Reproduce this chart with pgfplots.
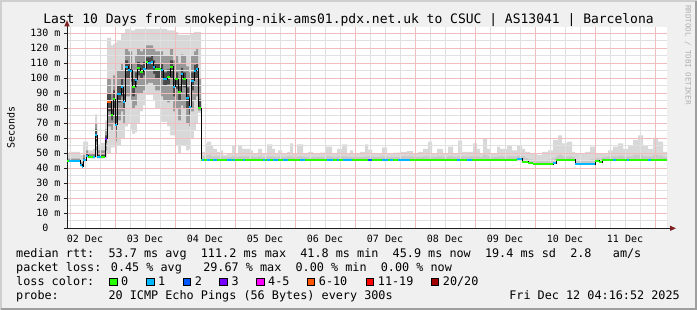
\documentclass[border=0pt]{standalone}
\usepackage{pgfplots}
\pgfplotsset{compat=1.18}
\usepackage{pgfplotstable}
\usetikzlibrary{arrows.meta}
\usepackage{fontspec}
\setmainfont{DejaVu Sans Mono}
\definecolor{bg}{HTML}{F0F0F0}
\definecolor{shadea}{HTML}{CFCFCF}
\definecolor{shadeb}{HTML}{9E9E9E}
\definecolor{gridc}{HTML}{E0E0E0}
\definecolor{mgridc}{HTML}{EFBDBD}
\definecolor{axisc}{HTML}{1F1F1F}
\definecolor{arrowc}{HTML}{7F1F1F}
\definecolor{smkA}{HTML}{D8D8D8}
\definecolor{smkB}{HTML}{999999}
\definecolor{smkC}{HTML}{4A4A4A}
\definecolor{smkF}{HTML}{C8C8C8}
\definecolor{l0}{HTML}{26FF00}
\definecolor{l1}{HTML}{00B8FF}
\definecolor{l2}{HTML}{0059FF}
\definecolor{l3}{HTML}{7700FF}
\definecolor{l45}{HTML}{FF00FF}
\definecolor{l610}{HTML}{FF5500}
\definecolor{l1119}{HTML}{FF0000}
\definecolor{l20}{HTML}{A10000}
\definecolor{wm}{HTML}{B0B0B0}

% x = hours since 02 Dec 00:00
\pgfplotstableread{
x lo q1 c1 med c2 q3 hi
4.8 44.5 45 45 45 45.5 46.5 50
5.6 44.5 45 45 45 45.5 46.5 51
10.0 41 42 42.3 42.5 43 44 49
10.8 40.5 41 41 41 42 44 49
11.2 44 45 45.3 45.5 46.5 49 57.7
12.4 47 48 48.3 48.5 49.5 52 57.7
13.2 46.5 47.3 47.6 47.8 48.3 49.5 52
15.2 46.5 47.3 47.6 47.8 48.5 50 53
16.0 47 52 58 62 66 70 76
16.8 46.5 47.3 47.6 47.8 49 52 56
18.4 46.5 47.3 47.6 47.8 49 52 57
20.0 47 52 57 59.7 62 66 72
20.8 50 68 78 84.3 90 100 127
22.4 54 65 72 75.6 80 90 122
23.2 54 70 80 86 92 102 123
24.0 50 58 65 69 75 90 124
24.8 55 72 84 89.5 95 105 125
26.4 60 78 88 94 100 110 130
27.2 60 70 80 84.3 90 105 130
28.0 68 88 100 107.6 112 120 133
29.2 70 88 100 105.6 110 118 133
30.0 66 85 98 105 110 118 132
30.8 63 80 88 94.3 100 110 132
32.0 64 82 94 99 104 115 133
32.8 70 90 102 106.8 111 120 133
34.0 78 90 100 104.2 109 118 133
35.2 82 92 102 106.2 111 120 133
36.4 89 96 106 110.9 114 122 133
37.2 89 97 106 110.4 114 122 133
38.4 89 97 106 110.9 115 122 133
39.2 85 95 103 107.7 112 120 133
40.0 80 92 100 106.2 110 118 133
42.4 71 88 100 105.5 110 118 133
43.2 71 85 95 99.5 104 115 133
44.8 68 84 96 101 106 115 132
46.0 62 85 100 107.7 112 120 132
47.2 62 78 88 94.4 100 112 132
48.0 55 80 93 99.5 104 115 131
49.2 50 72 85 91 96 110 129
50.4 55 82 96 102.9 107 116 129
51.2 55 80 94 99.3 104 115 129
52.4 52 70 80 86.7 94 108 129
53.6 53 68 76 81 88 104 129
54.4 60 78 92 98.4 104 115 130
55.6 65 85 100 105 109 118 131
56.4 70 88 100 106.4 110 120 131
57.2 77 78.5 79.5 80 86 100 131
58.4 45.8 45.8 45.8 45.8 45.8 45.8 45.8
}\vol

\pgfplotstableread{
x med mid hi
58.4 45.8 48 53
58.8 45.8 48 51
60.0 45.8 49 56.6
60.8 45.8 49 57.7
62.4 45.8 48 55.5
63.2 45.8 48 53
64.8 45.8 48 51
66.0 45.8 48 52
67.2 45.8 47.5 49
68.8 45.8 47.5 49.5
70.8 45.8 48 55
72.0 45.8 47.5 50
73.2 45.8 48 55
74.8 45.8 48 53
76.8 45.8 48 53
78.0 45.8 48 52
79.2 45.8 47.5 50
81.2 45.8 48 53
82.8 45.8 47.5 50
84.8 45.8 48 56
86.8 45.8 48 53
88.0 45.8 47.5 50
89.2 45.8 48 52
90.8 45.8 47.5 50
92.8 45.8 48 51
94.0 45.8 48 56.6
95.2 45.8 47.5 50
96.8 45.8 48 56
98.0 45.8 48 56
99.2 45.8 47.5 50
101.2 45.8 47.5 51
103.2 45.8 47.5 50
106.0 45.8 47.5 50.5
108.0 45.8 48 54.5
110.8 45.8 47.5 50
112.8 45.8 48 53
114.8 45.8 48 56
116.8 45.8 47.5 50
118.0 45.8 47.5 52
119.2 45.8 47.5 50
122.0 45.8 47.5 51
124.0 45.8 48 56
125.2 45.8 48 52.5
126.8 45.8 47.5 50
130.8 45.8 48 54
132.8 45.8 47.5 50
135.2 45.8 47.5 50.5
138.0 45.8 48 51
140.8 45.8 48 51.5
143.2 45.8 47.5 50
145.2 45.8 47.5 51
147.2 45.8 48 53
149.2 45.8 48 57.7
150.8 45.8 47.5 50
152.8 45.8 48 53
155.2 45.8 47.5 50
157.2 45.8 48 54.5
159.2 45.8 47.5 50
161.2 45.8 48 58.5
162.8 45.8 48 51
167.2 45.8 48 56.6
168.8 45.8 48 53
170.0 45.8 47.5 50
171.2 45.8 49 60
172.8 45.8 48 53
174.0 45.8 47.5 50
176.8 45.8 48 54.5
178.0 45.8 48 53
180.8 45.8 48 55
182.8 45.8 48 52
184.8 46.2 48.5 55
186.8 44.4 48 53
188.0 44.4 47 51
189.2 43.5 46 51
190.0 43.5 46 50
191.2 42.6 45.5 50
192.8 42.6 45 49
194.8 42.6 45.5 51
197.2 42.6 46 52
199.2 43.3 47 59
200.4 45.8 48 59
201.2 45.8 49 62
202.8 45.8 48 56.6
204.8 45.8 48 57.7
206.8 45.8 47.5 51
208.0 42.6 45.5 50
210.0 42.6 45 49.5
212.0 42.6 45.5 51
214.0 42.6 46 54.5
216.0 45.0 47 50
217.6 44.0 46.5 50
218.8 45.8 47.5 50
221.2 45.8 48 52
223.2 45.8 48 54.5
225.2 45.8 48.5 56.6
227.2 45.8 48 53
229.2 45.8 48 55.5
231.2 45.8 49 59
233.2 45.8 49 62
235.2 45.8 48 55.5
237.2 45.8 48 53
239.2 45.8 49 60.5
241.2 45.8 48.5 57.7
243.2 45.8 47.5 51
244.8 45.8 47.5 51
}\flat

% segments with 1/20 loss (pairs separated by nan)
\pgfplotstableread{
x y
5.6 45
10.0 45
10.0 nan
10.0 42.5
10.8 42.5
10.8 nan
10.8 41
11.2 41
11.2 nan
11.2 45.5
12.4 45.5
12.4 nan
12.4 48.5
13.2 48.5
13.2 nan
15.2 47.8
16.0 47.8
16.0 nan
16.0 62
16.8 62
16.8 nan
16.8 47.8
18.4 47.8
18.4 nan
24.0 69
24.8 69
24.8 nan
24.8 89.5
26.4 89.5
26.4 nan
26.4 94
27.2 94
27.2 nan
27.2 84.3
28.0 84.3
28.0 nan
28.0 107.6
29.2 107.6
29.2 nan
29.2 105.6
30.0 105.6
30.0 nan
30.0 105
30.8 105
30.8 nan
32.0 99
32.8 99
32.8 nan
35.2 106.2
36.4 106.2
36.4 nan
37.2 110.4
38.4 110.4
38.4 nan
38.4 110.9
39.2 110.9
39.2 nan
39.2 107.7
40.0 107.7
40.0 nan
42.4 105.5
43.2 105.5
43.2 nan
43.2 99.5
44.8 99.5
44.8 nan
47.2 94.4
48.0 94.4
48.0 nan
50.4 102.9
51.2 102.9
51.2 nan
52.4 86.7
53.6 86.7
53.6 nan
53.6 81
54.4 81
54.4 nan
54.4 98.4
55.6 98.4
55.6 nan
55.6 105
56.4 105
56.4 nan
56.4 106.4
57.2 106.4
57.2 nan
58.8 45.8
59.6 45.8
59.6 nan
60.8 45.8
62.0 45.8
62.0 nan
63.2 45.8
64.8 45.8
64.8 nan
68.8 45.8
70.8 45.8
70.8 nan
71.2 45.8
72.0 45.8
72.0 nan
75.2 45.8
76.0 45.8
76.0 nan
83.2 45.8
84.0 45.8
84.0 nan
84.8 45.8
86.0 45.8
86.0 nan
87.2 45.8
89.2 45.8
89.2 nan
91.2 45.8
93.2 45.8
93.2 nan
98.0 45.8
100.0 45.8
100.0 nan
108.8 45.8
111.2 45.8
111.2 nan
112.8 45.8
113.6 45.8
113.6 nan
115.2 45.8
118.8 45.8
118.8 nan
130.8 45.8
133.2 45.8
133.2 nan
134.0 45.8
135.2 45.8
135.2 nan
137.2 45.8
142.0 45.8
142.0 nan
160.8 45.8
162.0 45.8
162.0 nan
164.8 45.8
166.8 45.8
166.8 nan
184.8 46.2
186.8 46.2
186.8 nan
199.2 43.3
200.4 43.3
200.4 nan
208.0 42.6
216.0 42.6
216.0 nan
223.2 45.8
224.4 45.8
224.4 nan
228.8 45.8
229.6 45.8
229.6 nan
237.2 45.8
238.4 45.8
}\cyanseg

\newcommand\fsz[1]{\fontsize{#1}{#1}\selectfont}
\pgfplotsset{
  common/.style={
    at={(67bp,81.7bp)}, anchor=south west,
    scale only axis, width=600bp, height=201bp,
    xmin=4.8, xmax=244.8, ymin=0, ymax=134,
    unbounded coords=jump,
  },
  band/.style={const plot, draw=none, fill=#1, forget plot},
}

\begin{document}
\begin{tikzpicture}
\fill[bg] (0bp,0bp) rectangle (697bp,310bp);
\draw[shadea, line width=2bp] (1bp,0bp) -- (1bp,309bp) -- (697bp,309bp);
\draw[shadeb, line width=2bp] (1bp,1bp) -- (696bp,1bp) -- (696bp,309bp);

\begin{axis}[
  common,
  axis on top,
  axis background/.style={fill=white},
  axis x line=bottom, axis y line=left,
  x axis line style={draw=axisc, line width=1bp, -{Triangle[length=6bp,width=5bp,color=arrowc]}, shorten >=-9bp},
  y axis line style={draw=axisc, line width=1bp, -{Triangle[length=6bp,width=5bp,color=arrowc]}, shorten >=-7bp},
  tick align=outside, major tick length=3bp, minor tick length=0bp,
  tick style={draw=axisc, line width=1bp},
  xtick={12,36,60,84,108,132,156,180,204,228},
  xticklabels={02 Dec,03 Dec,04 Dec,05 Dec,06 Dec,07 Dec,08 Dec,09 Dec,10 Dec,11 Dec},
  xtick style={draw=none},
  minor xtick={6,12,18,30,36,42,54,60,66,78,84,90,102,108,114,126,132,138,150,156,162,174,180,186,198,204,210,222,228,234},
  xminorgrids=true, xmajorgrids=false,
  extra x ticks={24,48,72,96,120,144,168,192,216,240},
  extra x tick labels={},
  extra x tick style={grid=major, major grid style={draw=mgridc, line width=1bp}},
  ytick={0,10,20,30,40,50,60,70,80,90,100,110,120,130},
  yticklabels={0\hphantom{mm},10 m,20 m,30 m,40 m,50 m,60 m,70 m,80 m,90 m,100 m,110 m,120 m,130 m},
  minor ytick={5,15,25,35,45,55,65,75,85,95,105,115,125},
  ymajorgrids=true, yminorgrids=true,
  major grid style={draw=mgridc, line width=1bp},
  minor grid style={draw=gridc, line width=1bp},
  ticklabel style={font=\fsz{10bp}},
  ylabel={Seconds},
  ylabel style={font=\fsz{10bp}, at={(axis description cs:-0.0933,0.5)}, anchor=center},
]
% smoke, volatile part: nested areas painted from the top value down
\addplot[band=smkA] table[x=x,y=hi]{\vol} \closedcycle;
\addplot[band=smkB] table[x=x,y=q3]{\vol} \closedcycle;
\addplot[band=smkC] table[x=x,y=c2]{\vol} \closedcycle;
\addplot[band=smkB] table[x=x,y=c1]{\vol} \closedcycle;
\addplot[band=smkA] table[x=x,y=q1]{\vol} \closedcycle;
\addplot[band=white] table[x=x,y=lo]{\vol} \closedcycle;
% smoke, flat part
\addplot[band=smkA] table[x=x,y=hi]{\flat} \closedcycle;
\addplot[band=smkF] table[x=x,y=mid]{\flat} \closedcycle;
\addplot[band=white] table[x=x,y=med]{\flat} \closedcycle;
\end{axis}

% median, on top of the grid
\begin{axis}[common, hide axis]
\addplot[const plot, black, line width=1bp] table[x=x,y=med]{\vol};
\addplot[const plot, black, line width=1bp] table[x=x,y=med]{\flat};
\addplot[jump mark left, l0, line width=2bp] table[x=x,y=med]{\vol};
\addplot[jump mark left, l0, line width=2bp] table[x=x,y=med]{\flat};
\addplot[l1, line width=2bp] table[x=x,y=y]{\cyanseg};
\addplot[l2, line width=2bp] coordinates {(125.2,45.8) (126.8,45.8)};
\addplot[l3, line width=2bp] coordinates {(20.0,59.7) (20.8,59.7)};
\addplot[l610, line width=2bp] coordinates {(20.8,84.3) (22.4,84.3)};
\end{axis}

\node[anchor=base, font=\fsz{13bp}, inner sep=0pt] at (348.5bp,286bp)
  {Last 10 Days from smokeping-nik-ams01.pdx.net.uk to CSUC | AS13041 | Barcelona};
\node[rotate=-90, anchor=west, text=wm, font=\fsz{7.5bp}, inner sep=0pt] at (688bp,305bp)
  {RRDTOOL / TOBI OETIKER};

\node[anchor=base west, font=\fsz{11.8bp}, inner sep=0pt] at (16bp,52.7bp)
  {median rtt:\ \ 53.7 ms avg\ \ 111.2 ms max\ \ 41.8 ms min\ \ 45.9 ms now\ \ 19.4 ms sd\ \ 2.8\ \ \ am/s};
\node[anchor=base west, font=\fsz{11.8bp}, inner sep=0pt] at (16bp,38.3bp)
  {packet loss: 0.45 \% avg\ \ \ 29.67 \% max\ \ 0.00 \% min\ \ 0.00 \% now};
\node[anchor=base west, font=\fsz{11.8bp}, inner sep=0pt] at (16bp,24.3bp) {loss color:};
\node[anchor=base west, font=\fsz{11.8bp}, inner sep=0pt] at (16bp,11bp)
  {probe:\ \ \ \ \ \ \ 20 ICMP Echo Pings (56 Bytes) every 300s};
\node[anchor=base east, font=\fsz{11.8bp}, inner sep=0pt] at (680bp,11bp)
  {Fri Dec 12 04:16:52 2025};

\foreach \bx/\col/\lab in {109/l0/0, 146/l1/1, 182.7/l2/2, 219.3/l3/3, 256/l45/4-5, 306.7/l610/6-10, 365.7/l1119/11-19, 430.7/l20/20\slash 20}{
  \filldraw[fill=\col, draw=black, line width=0.9bp] (\bx bp+0.5bp,24.3bp) rectangle ++(7.5bp,7.5bp);
  \node[anchor=base west, font=\fsz{11.8bp}, inner sep=0pt] at (\bx bp+12bp,24.3bp) {\lab};
}
\pgfresetboundingbox
\path[use as bounding box] (0bp,0bp) rectangle (697bp,310bp);
\end{tikzpicture}
\end{document}
